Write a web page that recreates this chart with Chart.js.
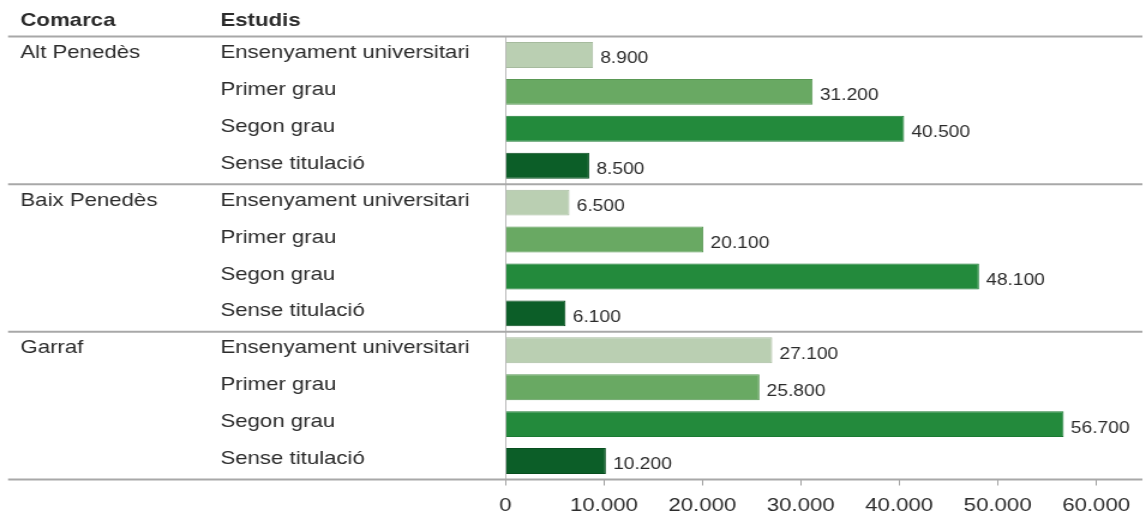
<!DOCTYPE html>
<html><head><meta charset="utf-8">
<script src="https://cdn.jsdelivr.net/npm/chart.js@4/dist/chart.umd.min.js"></script>
<style>
html,body{margin:0;padding:0;background:#fff;overflow:hidden}
#wrap{width:955px;height:518px;transform:scaleX(1.2);transform-origin:0 0;position:relative}
</style></head><body>
<div id="wrap"><canvas id="c"></canvas></div>
<script>
const headers = ['Comarca', 'Estudis'];
const comarques = ['Alt Penedès', 'Baix Penedès', 'Garraf'];
const estudis = ['Ensenyament universitari', 'Primer grau', 'Segon grau', 'Sense titulació'];
const altPenedes = [8900, 31200, 40500, 8500];
const baixPenedes = [6500, 20100, 48100, 6100];
const garraf = [27100, 25800, 56700, 10200];
const xTickValues = [0, 10000, 20000, 30000, 40000, 50000, 60000];

const colors = ['#bacfb2', '#69a963', '#238a3c', '#0c5e28'];
const borderColors = ['#a6bb9e', '#5a9855', '#1b7a33', '#084e1f'];
const FONT = '"Liberation Sans", Arial, sans-serif';
const FS = 18.5;
const VFS = 16;
const TXT = '#2b2b2b';

const values = [...altPenedes, ...baixPenedes, ...garraf];
const estudisLabels = comarques.flatMap(() => estudis);
const comarcaLabels = comarques.flatMap(c => estudis.map((e, j) => j === 0 ? c : ''));
const fmt = v => String(v).replace(/\B(?=(\d{3})+(?!\d))/g, '.');

const overlay = {
  id: 'overlay',
  afterDatasetsDraw(chart) {
    const ctx = chart.ctx, ys = chart.scales.y, area = chart.chartArea;
    ctx.save();
    // group separators
    ctx.strokeStyle = '#a8a8a8';
    ctx.lineWidth = 2;
    const n = estudis.length;
    for (let g = 0; g <= comarques.length; g++) {
      const idx = g * n;
      let py;
      if (idx === 0) py = area.top;
      else if (idx === values.length) py = area.bottom;
      else py = (ys.getPixelForValue(idx - 1) + ys.getPixelForValue(idx)) / 2;
      ctx.beginPath();
      ctx.moveTo(6.7, py);
      ctx.lineTo(area.right, py);
      ctx.stroke();
    }
    // value labels
    ctx.fillStyle = TXT;
    ctx.font = VFS + 'px ' + FONT;
    ctx.textAlign = 'left';
    ctx.textBaseline = 'middle';
    const meta = chart.getDatasetMeta(0);
    meta.data.forEach((bar, i) => {
      ctx.fillText(fmt(values[i]), bar.x + 6, bar.y + 4);
    });
    // headers
    ctx.font = 'bold ' + FS + 'px ' + FONT;
    ctx.fillText(headers[0], chart.scales.y2.left, 21);
    ctx.fillText(headers[1], chart.scales.y.left, 21);
    ctx.restore();
  }
};

new Chart(document.getElementById('c'), {
  type: 'bar',
  data: {
    labels: estudisLabels,
    datasets: [{
      data: values,
      backgroundColor: values.map((v, i) => colors[i % 4]),
      borderColor: values.map((v, i) => borderColors[i % 4]),
      borderWidth: 1,
      barPercentage: 0.7,
      categoryPercentage: 1,
      xAxisID: 'x',
      yAxisID: 'y'
    }]
  },
  options: {
    indexAxis: 'y',
    responsive: true,
    maintainAspectRatio: false,
    animation: false,
    layout: { padding: { left: 17, right: 3, top: 36.5, bottom: 0 } },
    plugins: { legend: { display: false }, tooltip: { enabled: false } },
    scales: {
      x: {
        type: 'linear', position: 'bottom', min: 0, max: 64700,
        afterBuildTicks: s => { s.ticks = xTickValues.map(v => ({ value: v })); },
        ticks: { callback: v => fmt(v), font: { family: FONT, size: FS }, color: TXT, padding: 9, maxRotation: 0, autoSkip: false },
        grid: { drawOnChartArea: false, drawTicks: true, tickLength: 6, color: '#a0a0a0' },
        border: { display: false },
        afterFit: s => { s.height = 38.5; }
      },
      y: {
        type: 'category', position: 'left', weight: 0, offset: true,
        grid: { display: false, offset: true },
        border: { display: true, color: '#b8b8b8', width: 1 },
        ticks: { crossAlign: 'far', autoSkip: false, padding: 0, font: { family: FONT, size: FS }, color: TXT, labelOffset: -2 },
        afterFit: s => { s.width = 237.5; }
      },
      y2: {
        type: 'category', position: 'left', weight: 1, offset: true,
        labels: comarcaLabels,
        grid: { display: false },
        border: { display: false },
        ticks: { crossAlign: 'far', autoSkip: false, padding: 0, font: { family: FONT, size: FS }, color: TXT, labelOffset: -2 },
        afterFit: s => { s.width = 166.7; }
      }
    }
  },
  plugins: [overlay]
});
</script>
</body></html>
